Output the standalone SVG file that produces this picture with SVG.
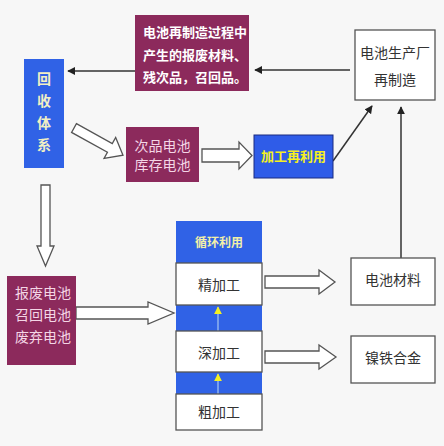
<svg xmlns="http://www.w3.org/2000/svg" width="444" height="446" viewBox="0 0 444 446">
<style>
.cjk{font-family:"Noto Sans CJK SC","Noto Sans",sans-serif;}
.mag{fill:#8c2a5c;}
.blue{fill:#3062e6;}
.wbox{fill:#ffffff;stroke:#555555;stroke-width:1.3;}
.hollow{fill:#ffffff;stroke:#555555;stroke-width:1.3;stroke-linejoin:miter;}
.ln{stroke:#333333;stroke-width:1.5;fill:none;}
.dark{fill:#333333;font-size:14px;}
.pink{fill:#f4d6e6;font-size:14px;}
</style>
<defs>
<marker id="ah" viewBox="0 0 10 10" refX="9" refY="5" markerWidth="8" markerHeight="8" markerUnits="userSpaceOnUse" orient="auto">
<path d="M0,0 L10,5 L0,10 Z" fill="#222222"/>
</marker>
<marker id="ay" viewBox="0 0 10 10" refX="9" refY="5" markerWidth="8" markerHeight="10" markerUnits="userSpaceOnUse" orient="auto">
<path d="M0,0 L10,5 L0,10 Z" fill="#f5f020"/>
</marker>
</defs>
<rect width="444" height="446" fill="#f7f7f7"/>

<g id="connectors">
<line class="ln" x1="135" y1="71" x2="68" y2="71" marker-end="url(#ah)"/>
<line class="ln" x1="350" y1="70" x2="255" y2="70" marker-end="url(#ah)"/>
<line class="ln" x1="333" y1="161" x2="372" y2="106" marker-end="url(#ah)"/>
<line class="ln" x1="401" y1="258" x2="401" y2="107" stroke="#555555" marker-end="url(#ah)"/>
<polygon class="hollow" points="0,-5 41,-5 41,-12 56,0 41,12 41,5 0,5" transform="translate(74,128) rotate(29)"/>
<polygon class="hollow" points="202,149 239,149 239,142 252,155.5 239,169 239,162 202,162"/>
<polygon class="hollow" points="41,185 50,185 50,246 54,246 45.5,266 37,246 41,246"/>
<polygon class="hollow" points="76,307 148,307 148,302 174,313 148,324 148,319 76,319"/>
<polygon class="hollow" points="265,276 319,276 319,270 335,282 319,294 319,288 265,288"/>
<polygon class="hollow" points="265,351 319,351 319,345 336,357 319,369 319,363 265,363"/>
</g>

<g id="node-waste-process">
<rect class="mag" x="135" y="15" width="114" height="76"/>
<g class="cjk" fill="#ffffff" font-size="13" font-weight="bold">
<text x="143" y="37">电池再制造过程中</text>
<text x="143" y="60">产生的报废材料、</text>
<text x="143" y="82">残次品，召回品。</text>
</g>
</g>

<g id="node-recycle-system">
<rect class="blue" x="24" y="59" width="40" height="109"/>
<g class="cjk" fill="#f2f0c4" font-size="14" font-weight="bold" text-anchor="middle">
<text x="44" y="84">回</text>
<text x="44" y="106">收</text>
<text x="44" y="128">体</text>
<text x="44" y="150">系</text>
</g>
</g>

<g id="node-factory">
<rect class="wbox" x="355" y="30" width="80" height="70"/>
<text class="cjk dark" x="395" y="58" text-anchor="middle">电池生产厂</text>
<text class="cjk dark" x="395" y="85" text-anchor="middle">再制造</text>
</g>

<g id="node-defective">
<rect class="mag" x="126" y="127" width="73" height="55"/>
<text class="cjk pink" x="162.5" y="151" text-anchor="middle" font-size="13">次品电池</text>
<text class="cjk pink" x="162.5" y="170" text-anchor="middle" font-size="13">库存电池</text>
</g>

<g id="node-reprocess">
<rect x="254" y="135" width="79" height="43" fill="#2f5ce8" stroke="#1a2a80" stroke-width="1"/>
<text class="cjk" x="293.5" y="160.5" text-anchor="middle" fill="#f5f020" font-size="13" font-weight="bold">加工再利用</text>
</g>

<g id="node-scrap">
<rect class="mag" x="7" y="276" width="69" height="89"/>
<text class="cjk pink" x="15" y="298" font-size="14.5">报废电池</text>
<text class="cjk pink" x="15" y="320" font-size="14.5">召回电池</text>
<text class="cjk pink" x="15" y="342" font-size="14.5">废弃电池</text>
</g>

<g id="node-cycle">
<rect class="blue" x="176" y="221" width="86" height="42"/>
<text class="cjk" x="219" y="247" text-anchor="middle" fill="#f2f0a8" font-size="12" font-weight="bold">循环利用</text>
<rect class="blue" x="176" y="305" width="86" height="26"/>
<rect class="blue" x="176" y="372" width="86" height="22"/>
<line x1="218" y1="331" x2="218" y2="307" stroke="#a8c8f0" stroke-width="1.2" marker-end="url(#ay)"/>
<line x1="218" y1="394" x2="218" y2="374" stroke="#a8c8f0" stroke-width="1.2" marker-end="url(#ay)"/>
</g>

<g id="node-fine">
<rect class="wbox" x="176" y="263" width="86" height="42"/>
<text class="cjk dark" x="219" y="290" text-anchor="middle" font-size="15">精加工</text>
</g>

<g id="node-deep">
<rect class="wbox" x="176" y="331" width="86" height="41"/>
<text class="cjk dark" x="219" y="358" text-anchor="middle" font-size="15">深加工</text>
</g>

<g id="node-rough">
<rect class="wbox" x="176" y="394" width="86" height="36"/>
<text class="cjk dark" x="219" y="417" text-anchor="middle" font-size="15">粗加工</text>
</g>

<g id="node-material">
<rect class="wbox" x="351" y="258" width="84" height="47"/>
<text class="cjk dark" x="393" y="285" text-anchor="middle">电池材料</text>
</g>

<g id="node-alloy">
<rect class="wbox" x="351" y="336" width="84" height="47"/>
<text class="cjk dark" x="393" y="363" text-anchor="middle">镍铁合金</text>
</g>
</svg>
